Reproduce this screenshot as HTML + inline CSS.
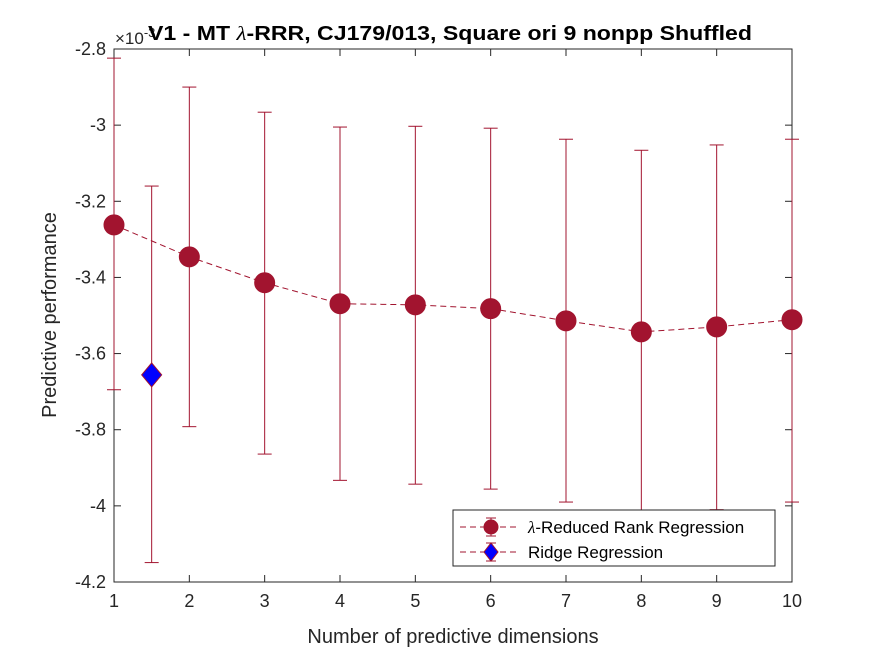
<!DOCTYPE html>
<html><head><meta charset="utf-8"><style>
body{margin:0;background:#fff;}
svg text{font-family:"Liberation Sans",sans-serif;}
</style></head><body>
<svg id="chart" width="875" height="656" xmlns="http://www.w3.org/2000/svg">
<rect width="875" height="656" fill="#fff"/>
</svg>
<script>
const dims=[1,2,3,4,5,6,7,8,9,10];
const rrrMean=[-3.262,-3.346,-3.414,-3.469,-3.472,-3.482,-3.514,-3.543,-3.530,-3.511];
const rrrTop=[-2.824,-2.9,-2.966,-3.005,-3.003,-3.008,-3.037,-3.066,-3.052,-3.037];
const rrrBot=[-3.695,-3.792,-3.864,-3.933,-3.943,-3.956,-3.99,-4.02,-4.01,-3.99];
const ridgeX=[1.5];
const ridgeMean=[-3.656];
const ridgeTop=[-3.16];
const ridgeBot=[-4.149];
const xTicks=[1,2,3,4,5,6,7,8,9,10];
const yTicks=[-2.8,-3,-3.2,-3.4,-3.6,-3.8,-4,-4.2];
const yTickLabels=['-2.8','-3','-3.2','-3.4','-3.6','-3.8','-4','-4.2'];

const L=114,R=792,T=49,B=582;
const xs=v=>L+(v-1)/9*(R-L);
const ys=v=>T+(-2.8-v)/1.4*(B-T);
const svg=document.getElementById('chart');
const NS='http://www.w3.org/2000/svg';
function mk(tag,attrs,parent){const e=document.createElementNS(NS,tag);for(const k in attrs)e.setAttribute(k,attrs[k]);(parent||svg).appendChild(e);return e;}
const C='#a2142f';

let box=mk('rect',{x:L,y:T,width:R-L,height:B-T,fill:'none',stroke:'#262626','stroke-width':1});


xTicks.forEach((t,i)=>{
  const x=xs(t);
  mk('line',{x1:x,y1:B,x2:x,y2:B-7,stroke:'#262626'});
  mk('line',{x1:x,y1:T,x2:x,y2:T+7,stroke:'#262626'});
  const tx=mk('text',{x:x,y:B+25,'text-anchor':'middle','font-size':18,fill:'#262626'});
  tx.textContent=t;
  
  
});
yTicks.forEach((t,i)=>{
  const y=ys(t);
  mk('line',{x1:L,y1:y,x2:L+7,y2:y,stroke:'#262626'});
  mk('line',{x1:R,y1:y,x2:R-7,y2:y,stroke:'#262626'});
  const tx=mk('text',{x:L-8,y:y+6,'text-anchor':'end','font-size':18,fill:'#262626'});
  tx.textContent=yTickLabels[i];
  
  
});
let ex=mk('text',{x:115,y:44,'font-size':17,fill:'#262626'});
ex.innerHTML='×10<tspan dy="-7" font-size="13">-3</tspan>';



let pts=dims.map((d,i)=>xs(d)+','+ys(rrrMean[i])).join(' ');
let pl=mk('polyline',{points:pts,fill:'none',stroke:C,'stroke-width':1,'stroke-dasharray':'6,4'});


function errbar(x,t,b,name){
  const g=mk('g',{stroke:C,'stroke-width':1});
  
  
  mk('line',{x1:x,y1:ys(t),x2:x,y2:ys(b)},g);
  mk('line',{x1:x-7,y1:ys(t),x2:x+7,y2:ys(t)},g);
  mk('line',{x1:x-7,y1:ys(b),x2:x+7,y2:ys(b)},g);
}
dims.forEach((d,i)=>errbar(xs(d),rrrTop[i],rrrBot[i],'rrr-errorbar'));
ridgeX.forEach((d,i)=>errbar(xs(d),ridgeTop[i],ridgeBot[i],'ridge-errorbar'));
dims.forEach((d,i)=>{
  const c=mk('circle',{cx:xs(d),cy:ys(rrrMean[i]),r:10,fill:C,stroke:C});
  
  
});
ridgeX.forEach((d,i)=>{
  const x=xs(d),y=ys(ridgeMean[i]);
  const p=mk('polygon',{points:`${x},${y-12} ${x+10},${y} ${x},${y+12} ${x-10},${y}`,fill:'#0000ff',stroke:C});
  
  
});

const lg=mk('g',{});


mk('rect',{x:453,y:510,width:322,height:56,fill:'#fff',stroke:'#262626'},lg);
[[527,'rrr'],[552,'ridge']].forEach(([y,k])=>{
  mk('line',{x1:460,y1:y,x2:520,y2:y,stroke:C,'stroke-dasharray':'6,4'},lg);
  mk('line',{x1:491,y1:y-9,x2:491,y2:y+9,stroke:C},lg);
  mk('line',{x1:486,y1:y-9,x2:496,y2:y-9,stroke:C},lg);
  mk('line',{x1:486,y1:y+9,x2:496,y2:y+9,stroke:C},lg);
  if(k==='rrr') mk('circle',{cx:491,cy:y,r:7,fill:C,stroke:C},lg);
  else mk('polygon',{points:`491,${y-9} 498,${y} 491,${y+9} 484,${y}`,fill:'#0000ff',stroke:C},lg);
});
</script>
<svg style="position:absolute;left:0;top:0" width="875" height="656" xmlns="http://www.w3.org/2000/svg">
<text x="528" y="533" font-size="17" fill="#000"><tspan font-family="Liberation Serif" font-style="italic">λ</tspan>-Reduced Rank Regression</text>
<text x="528" y="558" font-size="17" fill="#000">Ridge Regression</text>
<text x="148" y="40" font-size="20" font-weight="bold" fill="#000" textLength="604" lengthAdjust="spacingAndGlyphs">V1 - MT <tspan font-family="Liberation Serif" font-style="italic" font-weight="normal">λ</tspan>-RRR, CJ179/013, Square ori 9 nonpp Shuffled</text>
<text x="453" y="643" text-anchor="middle" font-size="20" fill="#262626">Number of predictive dimensions</text>
<text transform="translate(56,315) rotate(-90)" text-anchor="middle" font-size="20" fill="#262626">Predictive performance</text>
</svg>
</body></html>
